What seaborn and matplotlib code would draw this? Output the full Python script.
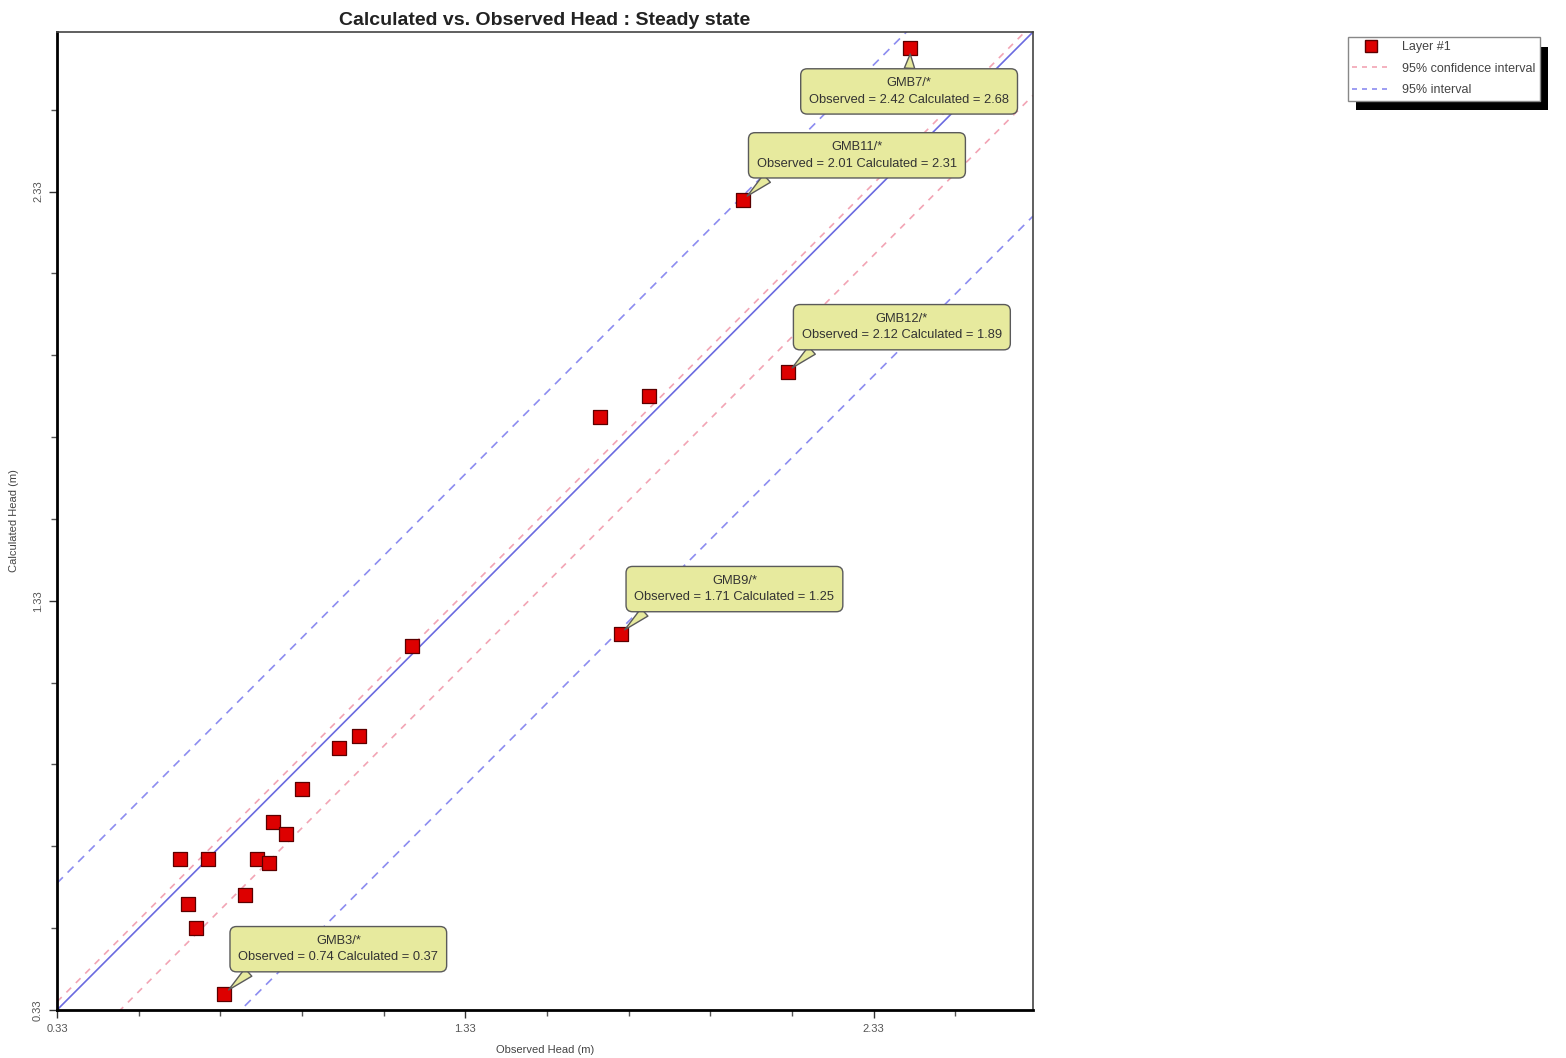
import matplotlib
matplotlib.use("Agg")
import matplotlib.pyplot as plt
from matplotlib.patches import Rectangle
import numpy as np
import pandas as pd
import seaborn as sns

# Observation wells: observed vs. calculated head (m)
observed = [2.42, 2.01, 2.12, 1.71, 0.74, 1.66, 1.78, 1.20, 1.02, 1.07,
            0.93, 0.86, 0.89, 0.63, 0.70, 0.82, 0.85, 0.79, 0.65, 0.67]
calculated = [2.68, 2.31, 1.89, 1.25, 0.37, 1.78, 1.83, 1.22, 0.97, 1.00,
              0.87, 0.79, 0.76, 0.70, 0.70, 0.70, 0.69, 0.61, 0.59, 0.53]
well_names = ["GMB7/*", "GMB11/*", "GMB12/*", "GMB9/*", "GMB3/*"]

# Offsets of the interval lines from the 1:1 line (m)
conf_offsets = [0.02, -0.155]
interval_offsets = [0.31, -0.45]

axis_min, axis_max = 0.33, 2.72
major_ticks = [0.33, 1.33, 2.33]

sns.set_style("white")
plt.rcParams["font.family"] = ["Liberation Sans", "DejaVu Sans"]

fig = plt.figure(figsize=(15.66, 10.58), dpi=100)
ax = fig.add_axes([57 / 1566, 1 - 1010 / 1058, 976 / 1566, 978 / 1058])

df = pd.DataFrame({"Observed": observed, "Calculated": calculated})

line_x = np.array([axis_min, axis_max])
for off in interval_offsets:
    sns.lineplot(x=line_x, y=line_x + off, ax=ax, color="#8c8cf0", lw=1.2,
                 linestyle=(0, (5, 4)), zorder=2)
for off in conf_offsets:
    sns.lineplot(x=line_x, y=line_x + off, ax=ax, color="#f2a4b4", lw=1.2,
                 linestyle=(0, (4, 4)), zorder=2)
sns.lineplot(x=line_x, y=line_x, ax=ax, color="#6a6ae0", lw=1.2, zorder=2)

sns.scatterplot(data=df, x="Observed", y="Calculated", ax=ax, marker="s",
                s=105, color="#dd0000", edgecolor="#5a0000", linewidth=0.9,
                zorder=4)

ax.set_xlim(axis_min, axis_max)
ax.set_ylim(axis_min, axis_max)
ax.set_xticks(major_ticks)
ax.set_yticks(major_ticks)
ax.set_xticks(np.arange(0.53, axis_max + 0.001, 0.2), minor=True)
ax.set_yticks(np.arange(0.53, axis_max + 0.001, 0.2), minor=True)
ax.set_xticklabels([f"{t:.2f}" for t in major_ticks], fontsize=8, color="#555555")
ax.set_yticklabels([f"{t:.2f}" for t in major_ticks], fontsize=8, color="#555555",
                   rotation=90, va="center")
ax.tick_params(which="major", direction="out", length=6, width=1, color="#333333",
               bottom=True, left=True, pad=4)
ax.tick_params(which="minor", direction="out", length=4, width=1, color="#555555",
               bottom=True, left=True)

for side in ["left", "bottom"]:
    ax.spines[side].set_linewidth(2.0)
    ax.spines[side].set_color("black")
for side in ["top", "right"]:
    ax.spines[side].set_linewidth(1.2)
    ax.spines[side].set_color("#444444")

ax.set_xlabel("Observed Head (m)", fontsize=8, color="#444444", labelpad=8)
ax.set_ylabel("Calculated Head (m)", fontsize=8, color="#444444", labelpad=10)
ax.set_title("Calculated vs. Observed Head : Steady state", fontsize=14,
             fontweight="bold", color="#222222", pad=5)

# Callouts for the labelled wells
label_offsets = [(-1, -31), (82, 32), (82, 32), (82, 32), (82, 32)]
tail_pos = [(0.5, 1.0), (0.1, 0.0), (0.1, 0.0), (0.1, 0.0), (0.1, 0.0)]
for i, name in enumerate(well_names):
    txt = f"{name}\nObserved = {observed[i]:.2f} Calculated = {calculated[i]:.2f}"
    ax.annotate(txt, xy=(observed[i], calculated[i]), xycoords="data",
                xytext=label_offsets[i], textcoords="offset points",
                ha="center", va="center", multialignment="center",
                fontsize=9.3, color="#333333", linespacing=1.5, zorder=6,
                bbox=dict(boxstyle="round,pad=0.65,rounding_size=0.5",
                          fc="#e7ea9e", ec="#5a5a5a", lw=1.0),
                arrowprops=dict(arrowstyle="wedge,tail_width=0.8",
                                fc="#e7ea9e", ec="#5a5a5a", lw=1.0,
                                relpos=tail_pos[i], shrinkA=0, shrinkB=4))

# Legend with solid drop shadow
handles = [
    plt.Line2D([], [], marker="s", linestyle="none", markersize=8,
               markerfacecolor="#dd0000", markeredgecolor="#5a0000"),
    plt.Line2D([], [], color="#f2a4b4", lw=1.2, linestyle=(0, (3, 3))),
    plt.Line2D([], [], color="#8c8cf0", lw=1.2, linestyle=(0, (3, 3))),
]
labels = ["Layer #1", "95% confidence interval", "95% interval"]
leg = fig.legend(handles, labels, loc="upper left",
                 bbox_to_anchor=(1348 / 1566, 1 - 37 / 1058),
                 borderaxespad=0, fontsize=9, frameon=True, fancybox=False,
                 framealpha=1, facecolor="white",
                 edgecolor="#888888", handlelength=3.0, labelspacing=0.75,
                 borderpad=0.35, handletextpad=1.0)
leg.get_frame().set_linewidth(1.0)
for t in leg.get_texts():
    t.set_color("#444444")

fig.canvas.draw()
bb = leg.get_window_extent().transformed(fig.transFigure.inverted())
shadow = Rectangle((bb.x0 + 8 / 1566, bb.y0 - 10 / 1058), bb.width, bb.height,
                   transform=fig.transFigure, facecolor="black",
                   edgecolor="none", zorder=leg.get_zorder() - 1)
fig.patches.append(shadow)

fig.savefig("out.png", dpi=100)
